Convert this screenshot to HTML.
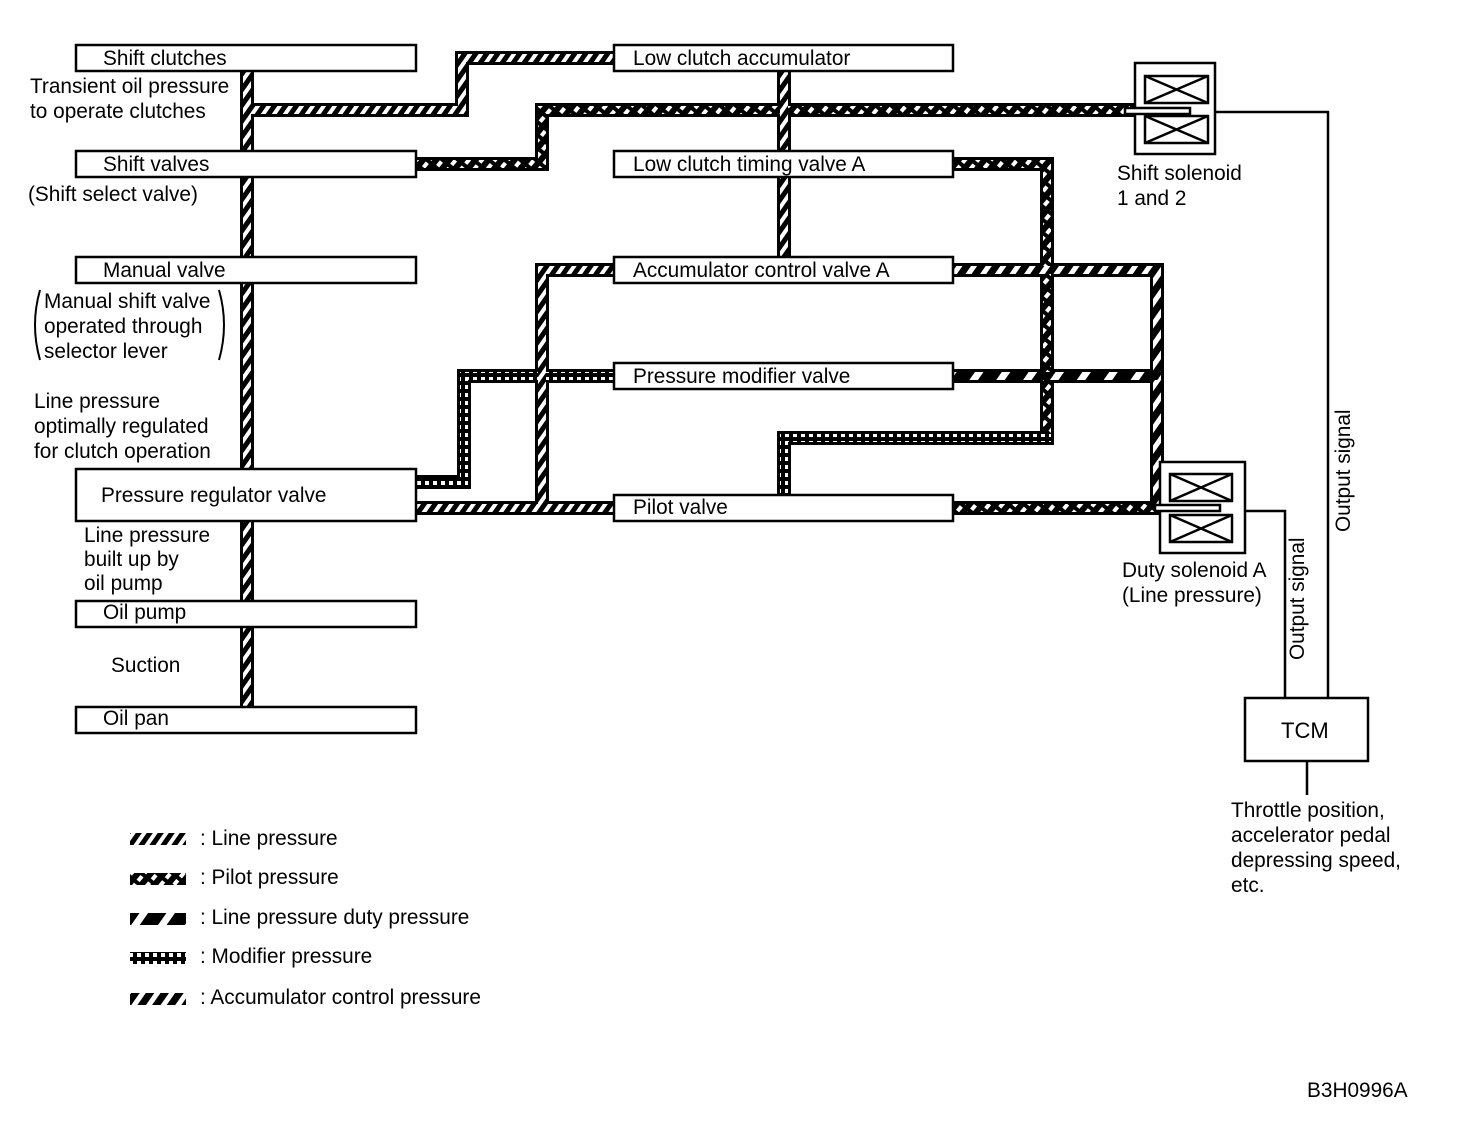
<!DOCTYPE html>
<html><head><meta charset="utf-8"><style>
html,body{margin:0;padding:0;background:#fff;}
svg{display:block;}
text{font-family:"Liberation Sans",Arial,sans-serif;font-size:20.8px;fill:#000;}
</style></head><body>
<svg width="1472" height="1128" viewBox="0 0 1472 1128" xmlns="http://www.w3.org/2000/svg">
<defs>
<pattern id="pl" width="9" height="9" patternUnits="userSpaceOnUse" patternTransform="rotate(35)"><rect width="9" height="9" fill="#000"/><rect width="4" height="9" fill="#fff"/></pattern>
<pattern id="pp" width="10" height="10" patternUnits="userSpaceOnUse" patternTransform="rotate(40)"><rect width="10" height="10" fill="#000"/><rect width="4" height="6" fill="#fff"/></pattern>
<pattern id="pd" width="22" height="22" patternUnits="userSpaceOnUse" patternTransform="rotate(35)"><rect width="22" height="22" fill="#000"/><rect width="7" height="22" fill="#fff"/></pattern>
<pattern id="pm" width="8" height="8" patternUnits="userSpaceOnUse"><rect width="8" height="8" fill="#000"/><rect x="1" y="1" width="4" height="4" fill="#fff"/></pattern>
<pattern id="pa" width="12" height="12" patternUnits="userSpaceOnUse" patternTransform="rotate(35)"><rect width="12" height="12" fill="#000"/><rect width="5" height="12" fill="#fff"/></pattern>
</defs>
<g fill="none" stroke-linejoin="miter" stroke-linecap="square">
<g stroke="#000" stroke-width="14">
<path d="M247 71 V707"/>
<path d="M254 110 H462 V58 H614"/>
<path d="M416 164 H542 V110 H1130"/>
<path d="M784 71 V257"/>
<path d="M953 164 H1047 V438 H784 V495"/>
<path d="M416 482 H464 V376 H614"/>
<path d="M416 508 H614"/>
<path d="M542 508 V270 H614"/>
<path d="M953 270 H1157 V508"/>
<path d="M953 376 H1157"/>
<path d="M953 508 H1160"/>
</g>
<g stroke-width="8">
<path d="M247 71 V707" stroke="url(#pl)"/>
<path d="M254 110 H462 V58 H614" stroke="url(#pl)"/>
<path d="M416 164 H542 V110 H1130" stroke="url(#pp)"/>
<path d="M784 71 V257" stroke="url(#pl)"/>
<path d="M953 164 H1047 V438" stroke="url(#pp)"/>
<path d="M1047 438 H784 V495" stroke="url(#pm)"/>
<path d="M416 482 H464 V376 H614" stroke="url(#pm)"/>
<path d="M416 508 H614" stroke="url(#pl)"/>
<path d="M542 508 V270 H614" stroke="url(#pl)"/>
<path d="M953 270 H1157 V508" stroke="url(#pa)"/>
<path d="M953 376 H1157" stroke="url(#pd)"/>
<path d="M953 508 H1160" stroke="url(#pp)"/>
</g>
</g>
<g fill="#fff" stroke="#000" stroke-width="2.5">
<rect x="76" y="45" width="340" height="26"/>
<rect x="76" y="151" width="340" height="26"/>
<rect x="76" y="257" width="340" height="26"/>
<rect x="76" y="469" width="340" height="52"/>
<rect x="76" y="601" width="340" height="26"/>
<rect x="76" y="707" width="340" height="26"/>
<rect x="614" y="45" width="339" height="26"/>
<rect x="614" y="151" width="339" height="26"/>
<rect x="614" y="257" width="339" height="26"/>
<rect x="614" y="363" width="339" height="26"/>
<rect x="614" y="495" width="339" height="26"/>
<rect x="1135" y="63" width="80" height="91"/>
<rect x="1160" y="462" width="85" height="91"/>
<rect x="1245" y="698" width="123" height="63"/>
</g>
<g fill="none" stroke="#000" stroke-width="2.5">
<rect x="1145" y="76" width="63" height="27"/><path d="M1145 76 L1208 103 M1208 76 L1145 103"/>
<rect x="1145" y="116" width="63" height="27"/><path d="M1145 116 L1208 143 M1208 116 L1145 143"/>
<rect x="1170" y="474" width="62" height="27"/><path d="M1170 474 L1232 501 M1232 474 L1170 501"/>
<rect x="1170" y="515" width="62" height="27"/><path d="M1170 515 L1232 542 M1232 515 L1170 542"/>
<rect x="1125" y="108" width="65" height="6" fill="#fff"/>
<rect x="1155" y="505" width="65" height="6" fill="#fff"/>
<path d="M1215 112 H1328 V698 M1245 511 H1285 V698 M1307 761 V795"/>
<path d="M40 290 Q30 325 40 360 M219 290 Q229 325 219 360" stroke-width="2"/>
</g>
<text x="103" y="65">Shift clutches</text>
<text x="30" y="93">Transient oil pressure</text>
<text x="30" y="118">to operate clutches</text>
<text x="103" y="171">Shift valves</text>
<text x="28" y="201">(Shift select valve)</text>
<text x="103" y="277">Manual valve</text>
<text x="44" y="308">Manual shift valve</text>
<text x="44" y="333">operated through</text>
<text x="44" y="358">selector lever</text>
<text x="34" y="408">Line pressure</text>
<text x="34" y="433">optimally regulated</text>
<text x="34" y="458">for clutch operation</text>
<text x="101" y="502">Pressure regulator valve</text>
<text x="84" y="542">Line pressure</text>
<text x="84" y="566">built up by</text>
<text x="84" y="590">oil pump</text>
<text x="103" y="619">Oil pump</text>
<text x="111" y="672">Suction</text>
<text x="103" y="725">Oil pan</text>
<text x="633" y="65">Low clutch accumulator</text>
<text x="633" y="171">Low clutch timing valve A</text>
<text x="633" y="277">Accumulator control valve A</text>
<text x="633" y="383">Pressure modifier valve</text>
<text x="633" y="514">Pilot valve</text>
<text x="1117" y="180">Shift solenoid</text>
<text x="1117" y="205">1 and 2</text>
<text x="1122" y="577">Duty solenoid A</text>
<text x="1122" y="602">(Line pressure)</text>
<text x="1281" y="738" style="font-size:22px">TCM</text>
<text x="1231" y="817">Throttle position,</text>
<text x="1231" y="842">accelerator pedal</text>
<text x="1231" y="867">depressing speed,</text>
<text x="1231" y="892">etc.</text>
<text transform="translate(1350,532) rotate(-90)">Output signal</text>
<text transform="translate(1304,660) rotate(-90)">Output signal</text>
<text x="1307" y="1097">B3H0996A</text>
<rect x="130" y="833" width="56" height="12" fill="url(#pl)"/>
<rect x="130" y="873" width="56" height="12" fill="url(#pp)"/>
<rect x="130" y="913" width="56" height="12" fill="url(#pd)"/>
<rect x="130" y="952" width="56" height="12" fill="url(#pm)"/>
<rect x="130" y="993" width="56" height="12" fill="url(#pa)"/>
<text x="200" y="845">:  Line pressure</text>
<text x="200" y="884">:  Pilot pressure</text>
<text x="200" y="924">:  Line pressure duty pressure</text>
<text x="200" y="963">:  Modifier pressure</text>
<text x="200" y="1004">:  Accumulator control pressure</text>
</svg>
</body></html>
